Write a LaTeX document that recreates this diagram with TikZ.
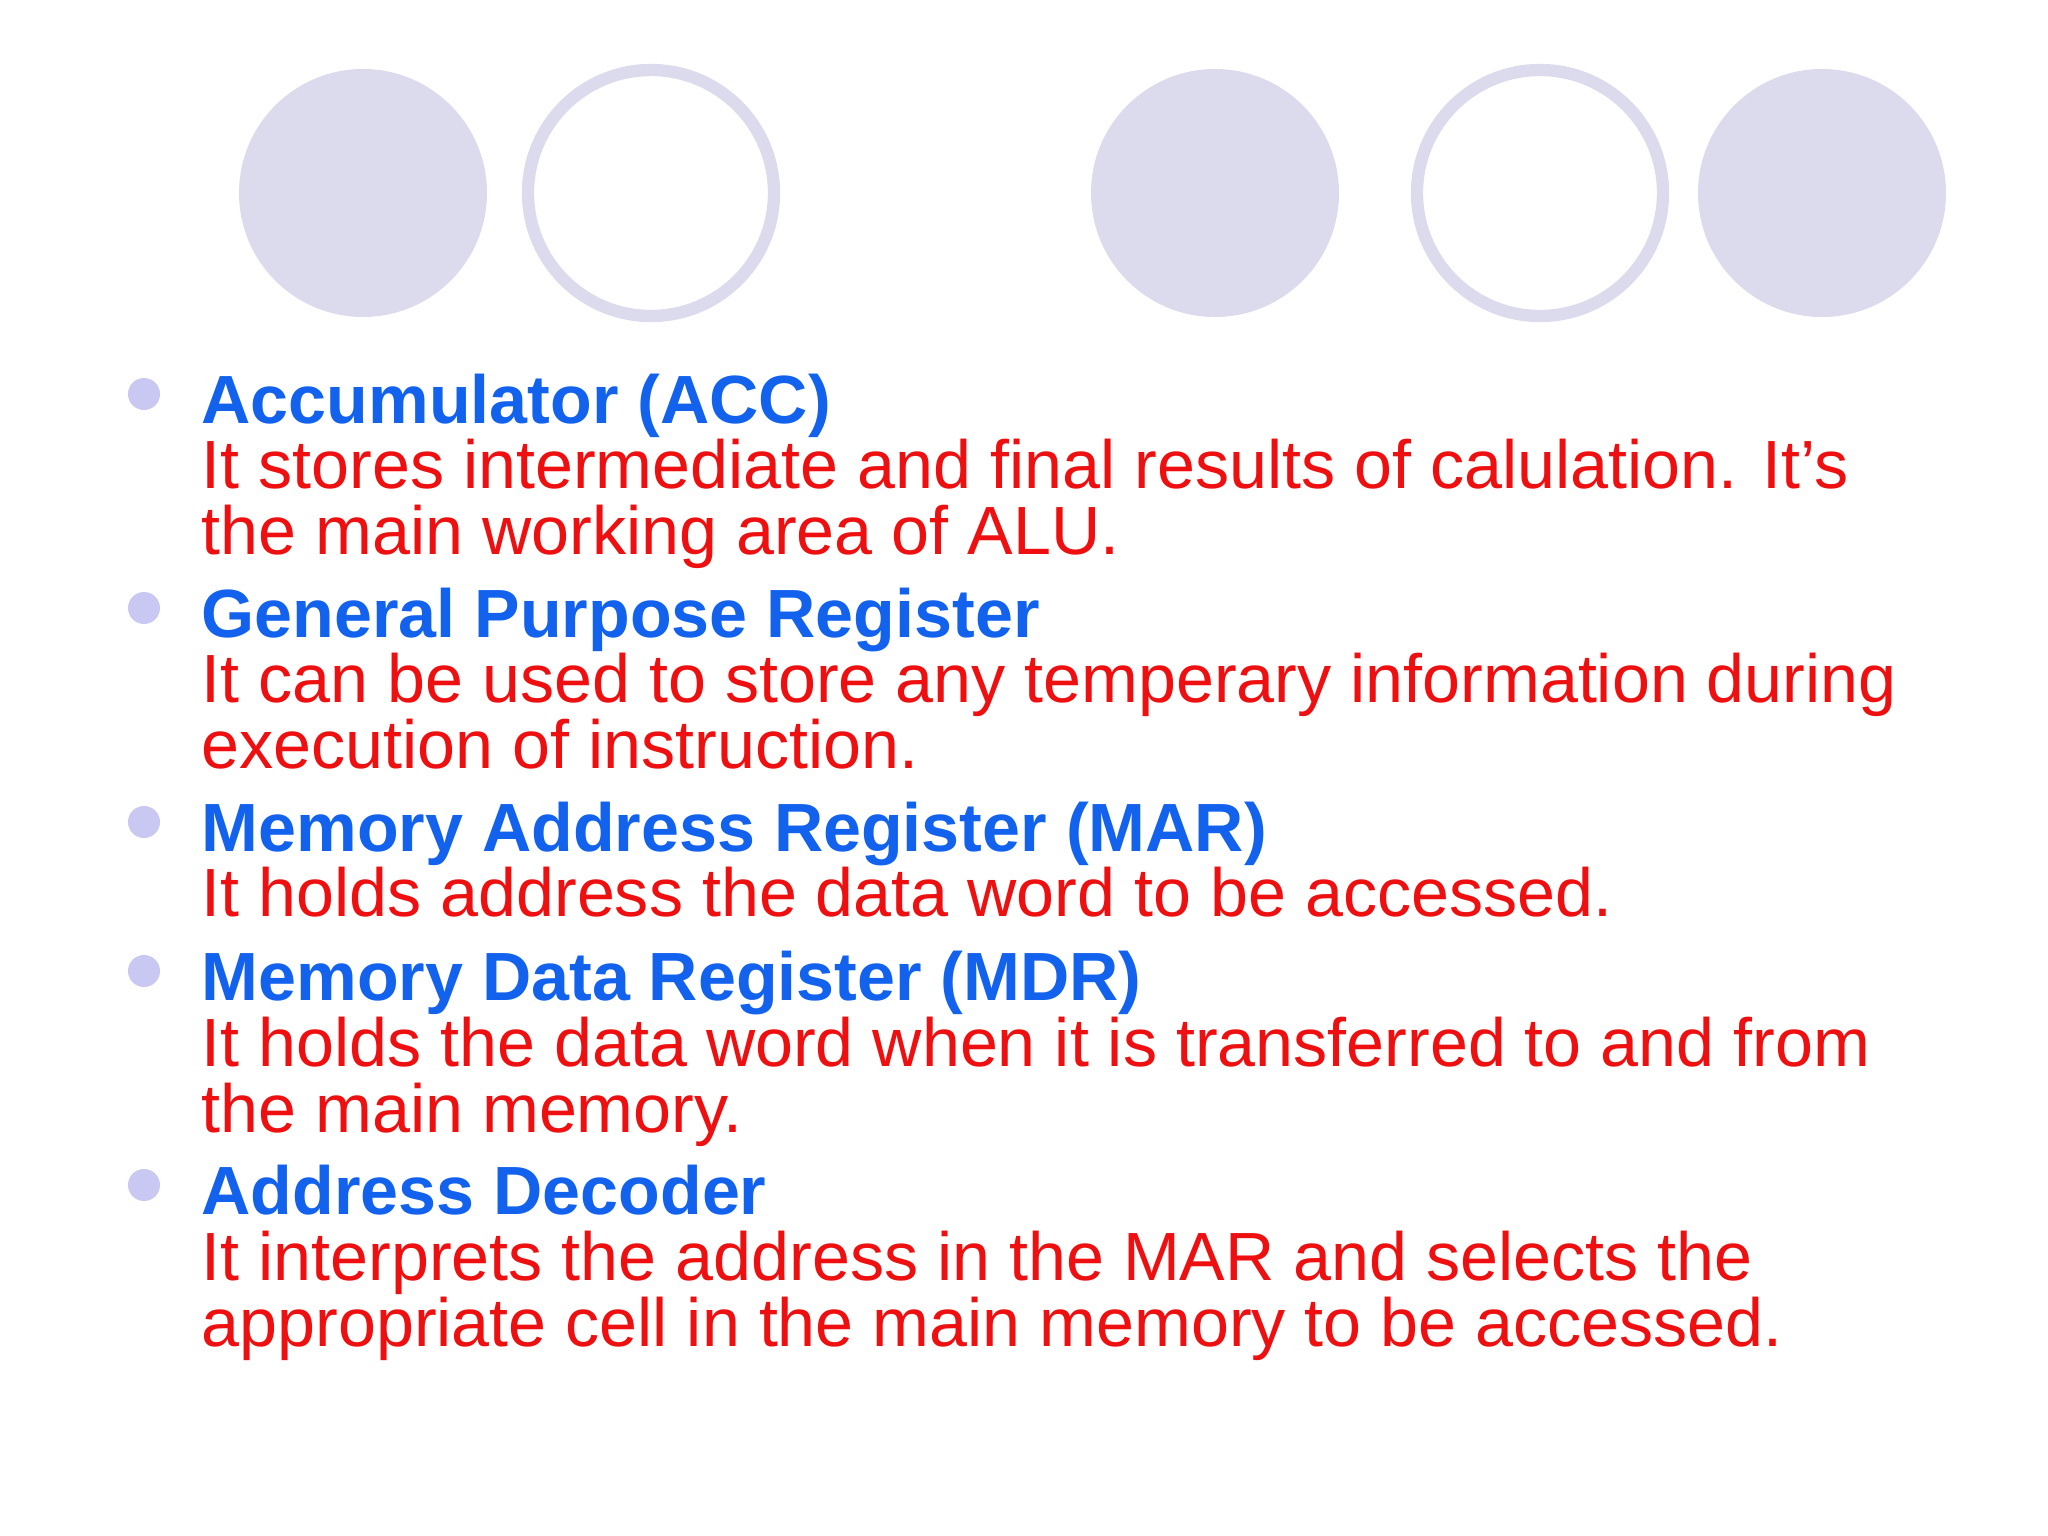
\documentclass[tikz,border=0pt]{standalone}
\usepackage{fontspec}
\setmainfont{Liberation Sans}
\definecolor{lav}{RGB}{220,219,237}
\definecolor{bul}{RGB}{200,200,242}
\definecolor{hblue}{RGB}{18,98,238}
\definecolor{tred}{RGB}{238,16,16}
\begin{document}
\begin{tikzpicture}[x=0.01cm,y=-0.01cm,
  head/.style={anchor=base west,inner sep=0,font=\fontsize{19.4}{19}\selectfont\bfseries,text=hblue},
  body/.style={anchor=base west,inner sep=0,font=\fontsize{19.4}{19}\selectfont,text=tred},
  dot/.style={circle,fill=bul,minimum size=0.32cm,inner sep=0}]
\useasboundingbox (0,0) rectangle (2048,1536);
\fill[lav] (363,193) circle (124);
\draw[lav,line width=3.5] (651,193) circle (123);
\fill[lav] (1215,193) circle (124);
\draw[lav,line width=3.5] (1540,193) circle (123);
\fill[lav] (1822,193) circle (124);
\foreach \y [count=\i] in {394,608,822,971,1185}{\node[dot] (b\i) at (144,\y) {};}
\node[head] (h1) at (201,423) {Accumulator (ACC)};
\node[body] (t1a) at (201,488) {It stores intermediate and final results of calulation. It{\char"0027}s};
\node[body] (t1b) at (201,554) {the main working area of ALU.};
\node[head] (h2) at (201,637) {General Purpose Register};
\node[body] (t2a) at (201,702) {It can be used to store any temperary information during};
\node[body] (t2b) at (201,768) {execution of instruction.};
\node[head] (h3) at (201,851) {Memory Address Register (MAR)};
\node[body] (t3a) at (201,916) {It holds address the data word to be accessed.};
\node[head] (h4) at (201,1000) {Memory Data Register (MDR)};
\node[body] (t4a) at (201,1066) {It holds the data word when it is transferred to and from};
\node[body] (t4b) at (201,1132) {the main memory.};
\node[head] (h5) at (201,1214) {Address Decoder};
\node[body] (t5a) at (201,1280) {It interprets the address in the MAR and selects the};
\node[body] (t5b) at (201,1346) {appropriate cell in the main memory to be accessed.};
\end{tikzpicture}
\end{document}
